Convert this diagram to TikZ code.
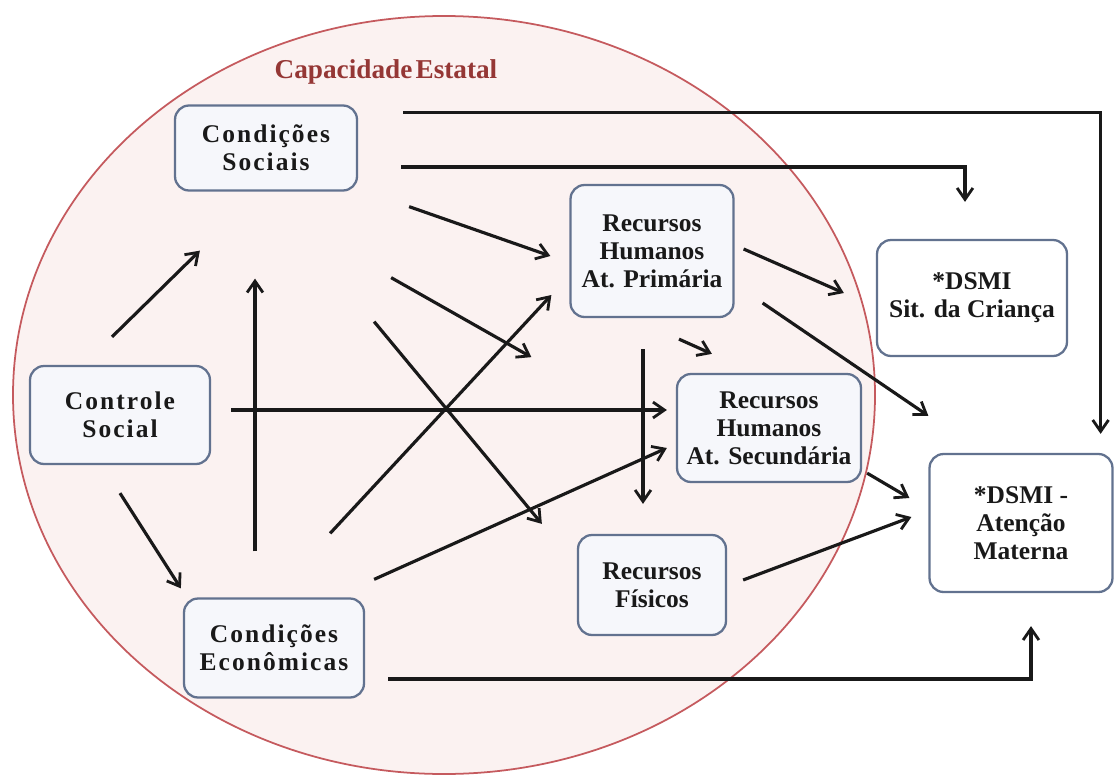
\documentclass[tikz,border=0pt]{standalone}
\usepackage{fontspec}
\setmainfont{Liberation Serif}
\usepackage{xcolor}
\usepackage{tikz}
\usetikzlibrary{arrows.meta}
\definecolor{elipsefill}{HTML}{FBF2F1}
\definecolor{elipseline}{HTML}{C55A5E}
\definecolor{boxline}{HTML}{62728F}
\definecolor{boxfill}{HTML}{F6F7FB}
\definecolor{titlered}{HTML}{953735}

\begin{document}
\begin{tikzpicture}[x=0.02cm, y=-0.02cm,
    box/.style={draw=boxline, line width=1.3pt, fill=boxfill, rounded corners=8pt,
      align=center, inner sep=0pt, text=black!90,
      font=\fontsize{14.5}{16}\selectfont\bfseries},
    wide/.style={font=\fontsize{14.5}{16}\selectfont\bfseries\addfontfeature{LetterSpace=8}},
    arr/.style={-{Straight Barb[length=6.5pt,width=9pt,line width=1.6pt]}, line width=1.8pt, black!90}]
    \useasboundingbox (0,0) rectangle (1115,774);
    \draw[elipseline, fill=elipsefill, line width=1pt] (444,395) ellipse [x radius=431, y radius=379];
    \node[text=titlered, font=\fontsize{15.5}{18}\selectfont\bfseries] (cap) at (386,72) {Capacidade\hspace{0.12em}Estatal};

    \node[box, wide, minimum width=3.64cm, minimum height=1.7cm] (soc) at (266,148) {Condições\\Sociais};
    \node[box, wide, minimum width=3.6cm, minimum height=1.96cm] (ctl) at (120,415) {Controle\\Social};
    \node[box, wide, minimum width=3.6cm, minimum height=1.98cm] (eco) at (274,648) {Condições\\Econômicas};
    \node[box, minimum width=3.26cm, minimum height=2.64cm] (rhp) at (652,251) {Recursos\\Humanos\\At. Primária};
    \node[box, minimum width=3.68cm, minimum height=2.16cm] (rhs) at (769,428) {Recursos\\Humanos\\At. Secundária};
    \node[box, minimum width=2.96cm, minimum height=2cm] (fis) at (652,585) {Recursos\\Físicos};
    \node[box, fill=white, minimum width=3.8cm, minimum height=2.32cm] (cri) at (972,298) {*DSMI\\Sit. da Criança};
    \node[box, fill=white, minimum width=3.66cm, minimum height=2.76cm] (mat) at (1021,523) {*DSMI -\\Atenção\\Materna};

    % condicoes sociais
    \draw[arr] ([shift={(45,8)}]soc.north east) -| ([shift={(-13,-19)}]mat.north east);
    \draw[arr] ([shift={(43,19)}]soc.east) -| ([shift={(-7,-37)}]cri.north);
    \draw[arr] ([shift={(51,15)}]soc.south east) -- ([shift={(-19,5)}]rhp.west);
    \draw[arr] ([shift={(33,86)}]soc.south east) -- ([shift={(-38,39)}]rhp.south west);
    \draw[arr] ([shift={(16,130)}]soc.south east) -- ([shift={(-35,-10)}]fis.north west);

    % condicoes economicas
    \draw[arr] ([shift={(-19,-46)}]eco.north) -- ([shift={(-11,87)}]soc.south);
    \draw[arr] ([shift={(-35,-64)}]eco.north east) -- ([shift={(-18,44)}]rhp.west);
    \draw[arr] ([shift={(9,-18)}]eco.north east) -- ([shift={(-9,20)}]rhs.west);
    \draw[arr] ([shift={(23,31)}]eco.east) -| ([shift={(10,33)}]mat.south);

    % controle social
    \draw[arr] ([shift={(20,-5)}]ctl.east) -- ([shift={(-9,-18)}]rhs.west);
    \draw[arr] ([shift={(-8,-28)}]ctl.north) -- ([shift={(26,59)}]soc.south west);
    \draw[arr] ([shift={(0,28)}]ctl.south) -- ([shift={(-2,-9)}]eco.north west);

    % recursos
    \draw[arr] ([shift={(9,-2)}]rhp.east) -- ([shift={(-32,-5)}]cri.west);
    \draw[arr] ([shift={(28,52)}]rhp.east) -- ([shift={(0,-37)}]mat.north west);
    \draw[arr] ([shift={(27,21)}]rhp.south) -- ([shift={(36,-19)}]rhs.north west);
    \draw[arr] ([shift={(-9,31)}]rhp.south) -- ([shift={(-9,-30)}]fis.north);
    \draw[arr] ([shift={(5,-10)}]rhs.south east) -- ([shift={(-19,-25)}]mat.west);
    \draw[arr] ([shift={(16,-5)}]fis.east) -- ([shift={(-17,-6)}]mat.west);
\end{tikzpicture}
\end{document}
